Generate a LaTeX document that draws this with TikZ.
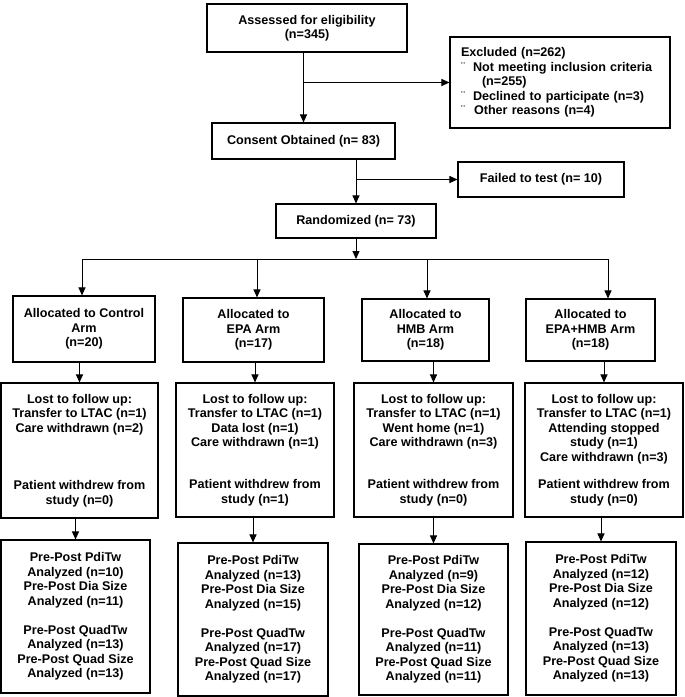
\documentclass[tikz,border=0pt]{standalone}
\usepackage{fontspec}
\setmainfont{Liberation Sans}
\usetikzlibrary{arrows.meta}

\begin{document}
\begin{tikzpicture}[x=1pt,y=-1pt,
  >={Triangle[length=8pt,width=7pt]},
  box/.style={draw,line width=1.1pt,align=center,inner sep=1pt,
    font=\fontsize{12.6}{14.5}\selectfont\bfseries},
  link/.style={line width=1pt}]

\useasboundingbox (0,0) rectangle (685,697);

% Screening part
\node[box,minimum width=200,minimum height=48] (assess) at (307,28) {Assessed for eligibility\\(n=345)};
\node[box,align=left,text width=198pt,inner xsep=11pt,minimum height=91] (excl) at (560,82.5)
  {Excluded (n=262)\\
   \makebox[12pt][l]{\mdseries ¨}Not meeting inclusion criteria\\
   \hspace*{21pt}(n=255)\\
   \makebox[12pt][l]{\mdseries ¨}Declined to participate (n=3)\\
   \makebox[13pt][l]{\mdseries ¨}Other reasons (n=4)};
\node[box,minimum width=183,minimum height=36] (consent) at (303.5,141) {Consent Obtained (n= 83)};
\node[box,minimum width=166,minimum height=35] (failed) at (541,179.5) {Failed to test (n= 10)};
\node[box,minimum width=160,minimum height=34] (random) at (356,221) {Randomized (n= 73)};

% Allocation
\node[box,minimum width=142,minimum height=66] (alloc1) at (84,329) {Allocated to Control\\Arm\\(n=20)};
\node[box,minimum width=141,minimum height=64] (alloc2) at (253.5,330) {Allocated to\\EPA Arm\\(n=17)};
\node[box,minimum width=127,minimum height=62] (alloc3) at (425.5,330) {Allocated to\\HMB Arm\\(n=18)};
\node[box,minimum width=129,minimum height=62] (alloc4) at (590.5,330) {Allocated to\\EPA+HMB Arm\\(n=18)};

% Follow up
\node[box,inner ysep=0pt,minimum width=157,minimum height=135] (lost1) at (79.5,450.5)
  {\parbox[c][113pt][t]{150pt}{\centering Lost to follow up:\\Transfer to LTAC (n=1)\\Care withdrawn (n=2)\par\vfill
   Patient withdrew from\\study (n=0)}};
\node[box,inner ysep=0pt,minimum width=158,minimum height=134] (lost2) at (255,450)
  {\parbox[c][112pt][t]{150pt}{\centering Lost to follow up:\\Transfer to LTAC (n=1)\\Data lost (n=1)\\Care withdrawn (n=1)\par\vfill
   Patient withdrew from\\study (n=1)}};
\node[box,inner ysep=0pt,minimum width=159,minimum height=134] (lost3) at (433.5,450)
  {\parbox[c][112pt][t]{150pt}{\centering Lost to follow up:\\Transfer to LTAC (n=1)\\Went home (n=1)\\Care withdrawn (n=3)\par\vfill
   Patient withdrew from\\study (n=0)}};
\node[box,inner ysep=0pt,minimum width=158,minimum height=134] (lost4) at (604,450)
  {\parbox[c][112pt][t]{150pt}{\centering Lost to follow up:\\Transfer to LTAC (n=1)\\Attending stopped\\study (n=1)\\Care withdrawn (n=3)\par\vfill
   Patient withdrew from\\study (n=0)}};

% Analysis
\node[box,minimum width=149,minimum height=153] (anal1) at (75.5,616.5)
  {Pre-Post PdiTw\\Analyzed (n=10)\\Pre-Post Dia Size\\Analyzed (n=11)\\[14.5pt]Pre-Post QuadTw\\Analyzed (n=13)\\Pre-Post Quad Size\\Analyzed (n=13)};
\node[box,minimum width=150,minimum height=153] (anal2) at (253,619.5)
  {Pre-Post PdiTw\\Analyzed (n=13)\\Pre-Post Dia Size\\Analyzed (n=15)\\[14.5pt]Pre-Post QuadTw\\Analyzed (n=17)\\Pre-Post Quad Size\\Analyzed (n=17)};
\node[box,minimum width=149,minimum height=151] (anal3) at (433.5,619.5)
  {Pre-Post PdiTw\\Analyzed (n=9)\\Pre-Post Dia Size\\Analyzed (n=12)\\[14.5pt]Pre-Post QuadTw\\Analyzed (n=11)\\Pre-Post Quad Size\\Analyzed (n=11)};
\node[box,minimum width=150,minimum height=153] (anal4) at (601,618.5)
  {Pre-Post PdiTw\\Analyzed (n=12)\\Pre-Post Dia Size\\Analyzed (n=12)\\[14.5pt]Pre-Post QuadTw\\Analyzed (n=13)\\Pre-Post Quad Size\\Analyzed (n=13)};

% Top connectors
\draw[link,->] (consent.north |- assess.south) -- (consent.north);
\draw[link,->] (consent.north |- excl.west) -- (excl.west);
\draw[link,->] (random.north |- consent.south) -- (random.north);
\draw[link,->] (random.north |- failed.west) -- (failed.west);

% Split into the four arms
\coordinate (split) at (356,259);
\coordinate (drop1) at (82,259);
\coordinate (drop2) at (257,259);
\coordinate (drop3) at (427,259);
\coordinate (drop4) at (608,259);
\draw[link,->] (random.south) -- (split);
\draw[link] (drop1) -- (drop4);
\draw[link,->] (drop1) -- (drop1 |- alloc1.north);
\draw[link,->] (drop2) -- (drop2 |- alloc2.north);
\draw[link,->] (drop3) -- (drop3 |- alloc3.north);
\draw[link,->] (drop4) -- (drop4 |- alloc4.north);

% Arms down
\draw[link,->] (lost1.north |- alloc1.south) -- (lost1.north);
\draw[link,->] (lost2.north |- alloc2.south) -- (lost2.north);
\draw[link,->] (lost3.north |- alloc3.south) -- (lost3.north);
\draw[link,->] (lost4.north |- alloc4.south) -- (lost4.north);
\draw[link,->] (anal1.north |- lost1.south) -- (anal1.north);
\draw[link,->] (anal2.north |- lost2.south) -- (anal2.north);
\draw[link,->] (anal3.north |- lost3.south) -- (anal3.north);
\draw[link,->] (anal4.north |- lost4.south) -- (anal4.north);

\end{tikzpicture}
\end{document}
